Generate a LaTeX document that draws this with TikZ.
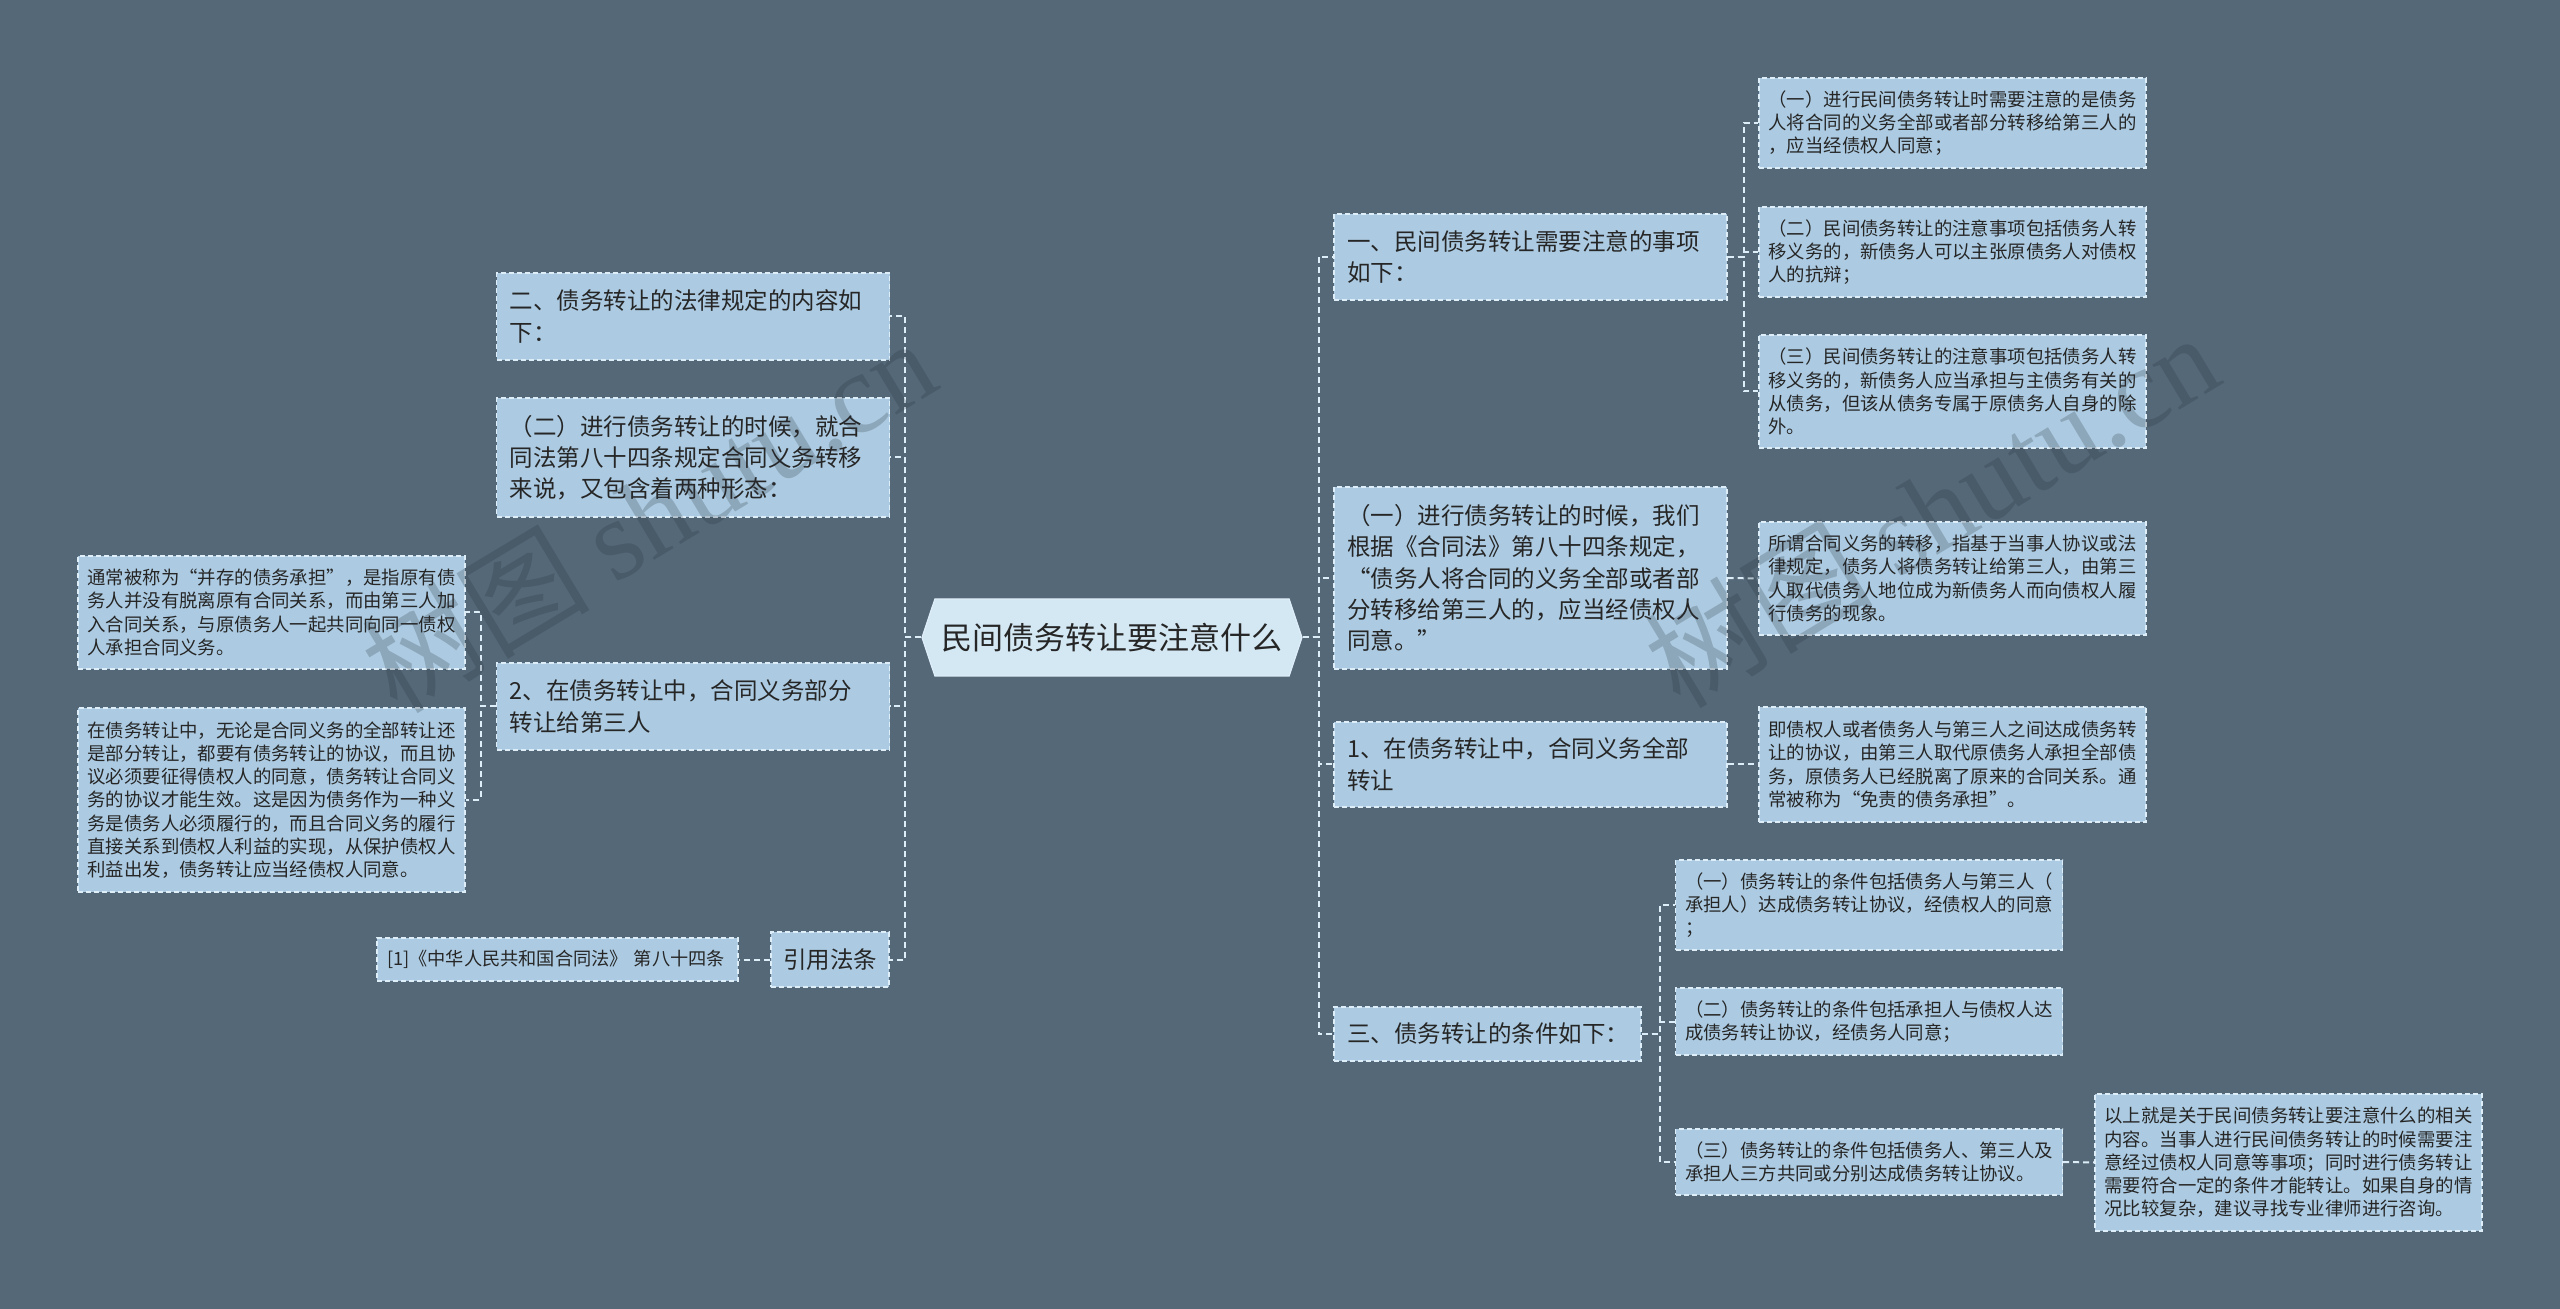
\documentclass[tikz,border=0pt]{standalone}
\usepackage{fontspec}
\setmainfont{Noto Sans CJK SC}
\newfontfamily\wmfont{Liberation Serif}
\usetikzlibrary{shapes,shapes.symbols,positioning}
\definecolor{bgcolor}{RGB}{84,104,120}
\definecolor{boxcolor}{RGB}{172,203,226}
\definecolor{rootcolor}{RGB}{212,232,244}
\definecolor{edgecolor}{RGB}{222,238,248}
\definecolor{inkcolor}{RGB}{38,38,38}
\definecolor{markcolor}{RGB}{40,50,60}
\tikzset{
    box/.style={
        rectangle,
        draw=edgecolor,
        dash pattern=on 2.5pt off 1.5pt,
        line width=0.6pt,
        fill=boxcolor,
        text=inkcolor,
        align=left,
        inner ysep=2pt
    },
    bigbox/.style={box, font=\fontsize{11.75pt}{15.6pt}\selectfont, text width=183.5pt, inner xsep=6.5pt},
    smallbox/.style={box, font=\fontsize{9.2pt}{11.6pt}\selectfont, text width=184pt, inner xsep=4.75pt},
    rootbox/.style={
        signal, signal to=west and east, signal pointer angle=143,
        fill=rootcolor, draw=edgecolor, line width=0.6pt,
        text=inkcolor, font=\fontsize{15.5pt}{18pt}\selectfont,
        minimum width=190pt, minimum height=38.5pt, inner sep=0pt
    },
    link/.style={draw=edgecolor, line width=1pt, dash pattern=on 3pt off 2pt},
    watermark/.style={text=markcolor, opacity=0.24, rotate=31, font=\fontsize{57pt}{57pt}\selectfont}
}

\begin{document}
\begin{tikzpicture}[x=0.5pt, y=-0.5pt]
    \fill[bgcolor] (0,0) rectangle (2560,1309);
    \useasboundingbox (0,0) rectangle (2560,1309);

    % Centre
    \node[rootbox] (root) at (1112,637.5) {民间债务转让要注意什么};

    % Right branches
    \node[bigbox, minimum height=43pt] (r1) at (1530.5,257)
          {一、民间债务转让需要注意的事项\\如下：};
    \node[bigbox, minimum height=91pt] (r2) at (1530.5,578)
          {（一）进行债务转让的时候，我们\\根据《合同法》第八十四条规定，\\“债务人将合同的义务全部或者部\\分转移给第三人的，应当经债权人\\同意。”};
    \node[bigbox, minimum height=42.5pt] (r3) at (1530.5,764.5)
          {1、在债务转让中，合同义务全部\\转让};
    \node[bigbox, text width=140.5pt, minimum height=27pt] (r4) at (1487.5,1034)
          {三、债务转让的条件如下：};

    % Details of r1
    \node[smallbox, minimum height=45pt] (a1) at (1952.5,123)
          {（一）进行民间债务转让时需要注意的是债务\\人将合同的义务全部或者部分转移给第三人的\\，应当经债权人同意；};
    \node[smallbox, minimum height=45pt] (a2) at (1952.5,252)
          {（二）民间债务转让的注意事项包括债务人转\\移义务的，新债务人可以主张原债务人对债权\\人的抗辩；};
    \node[smallbox, minimum height=56.5pt] (a3) at (1952.5,391.5)
          {（三）民间债务转让的注意事项包括债务人转\\移义务的，新债务人应当承担与主债务有关的\\从债务，但该从债务专属于原债务人自身的除\\外。};

    % Details of r2 and r3
    \node[smallbox, minimum height=56.5pt] (b1) at (1952.5,578.5)
          {所谓合同义务的转移，指基于当事人协议或法\\律规定，债务人将债务转让给第三人，由第三\\人取代债务人地位成为新债务人而向债权人履\\行债务的现象。};
    \node[smallbox, minimum height=57.5pt] (c1) at (1952.5,764.5)
          {即债权人或者债务人与第三人之间达成债务转\\让的协议，由第三人取代原债务人承担全部债\\务，原债务人已经脱离了原来的合同关系。通\\常被称为“免责的债务承担”。};

    % Details of r4
    \node[smallbox, minimum height=45pt] (d1) at (1869,905)
          {（一）债务转让的条件包括债务人与第三人（\\承担人）达成债务转让协议，经债权人的同意\\；};
    \node[smallbox, minimum height=33.5pt] (d2) at (1869,1021.5)
          {（二）债务转让的条件包括承担人与债权人达\\成债务转让协议，经债务人同意；};
    \node[smallbox, minimum height=33pt] (d3) at (1869,1162)
          {（三）债务转让的条件包括债务人、第三人及\\承担人三方共同或分别达成债务转让协议。};
    \node[smallbox, minimum height=68.5pt] (e1) at (2288.5,1162.5)
          {以上就是关于民间债务转让要注意什么的相关\\内容。当事人进行民间债务转让的时候需要注\\意经过债权人同意等事项；同时进行债务转让\\需要符合一定的条件才能转让。如果自身的情\\况比较复杂，建议寻找专业律师进行咨询。};

    % Left branches
    \node[bigbox, minimum height=43.5pt] (l1) at (693,316.5)
          {二、债务转让的法律规定的内容如\\下：};
    \node[bigbox, minimum height=59.5pt] (l2) at (693,457.5)
          {（二）进行债务转让的时候，就合\\同法第八十四条规定合同义务转移\\来说，又包含着两种形态：};
    \node[bigbox, minimum height=43.5pt] (l3) at (693,706.5)
          {2、在债务转让中，合同义务部分\\转让给第三人};
    \node[bigbox, text width=47pt, inner xsep=6pt, align=center, minimum height=27.5pt] (l4) at (830,959.5)
          {引用法条};

    % Details of l3 and l4
    \node[smallbox, minimum height=56.5pt] (m1) at (271.5,612.5)
          {通常被称为“并存的债务承担”，是指原有债\\务人并没有脱离原有合同关系，而由第三人加\\入合同关系，与原债务人一起共同向同一债权\\人承担合同义务。};
    \node[smallbox, minimum height=92pt] (m2) at (271.5,800)
          {在债务转让中，无论是合同义务的全部转让还\\是部分转让，都要有债务转让的协议，而且协\\议必须要征得债权人的同意，债务转让合同义\\务的协议才能生效。这是因为债务作为一种义\\务是债务人必须履行的，而且合同义务的履行\\直接关系到债权人利益的实现，从保护债权人\\利益出发，债务转让应当经债权人同意。};
    \node[smallbox, font=\fontsize{9.1pt}{11pt}\selectfont, text width=170.5pt, inner xsep=5pt, minimum height=21.5pt] (cite) at (557.5,959.5)
          {[1]《中华人民共和国合同法》 第八十四条};

    % Links
    \draw[link] (root.east) -- ++(16,0) |- (r1.west);
    \draw[link] (root.east) -- ++(16,0) |- (r2.west);
    \draw[link] (root.east) -- ++(16,0) |- (r3.west);
    \draw[link] (root.east) -- ++(16,0) |- (r4.west);
    \draw[link] (r1.east) -- ++(16,0) |- (a1.west);
    \draw[link] (r1.east) -- ++(16,0) |- (a2.west);
    \draw[link] (r1.east) -- ++(16,0) |- (a3.west);
    \draw[link] (r2.east) -- (b1.west);
    \draw[link] (r3.east) -- (c1.west);
    \draw[link] (r4.east) -- ++(18,0) |- (d1.west);
    \draw[link] (r4.east) -- ++(18,0) |- (d2.west);
    \draw[link] (r4.east) -- ++(18,0) |- (d3.west);
    \draw[link] (d3.east) -- (e1.west);
    \draw[link] (root.west) -- ++(-16,0) |- (l1.east);
    \draw[link] (root.west) -- ++(-16,0) |- (l2.east);
    \draw[link] (root.west) -- ++(-16,0) |- (l3.east);
    \draw[link] (root.west) -- ++(-16,0) |- (l4.east);
    \draw[link] (l3.west) -- ++(-15,0) |- (m1.east);
    \draw[link] (l3.west) -- ++(-15,0) |- (m2.east);
    \draw[link] (l4.west) -- (cite.east);

    % Watermarks
    \node[watermark] (mark1) at (648,514) {树图 {\wmfont shutu.cn}};
    \node[watermark] (mark2) at (1931,509) {树图 {\wmfont shutu.cn}};
\end{tikzpicture}
\end{document}
